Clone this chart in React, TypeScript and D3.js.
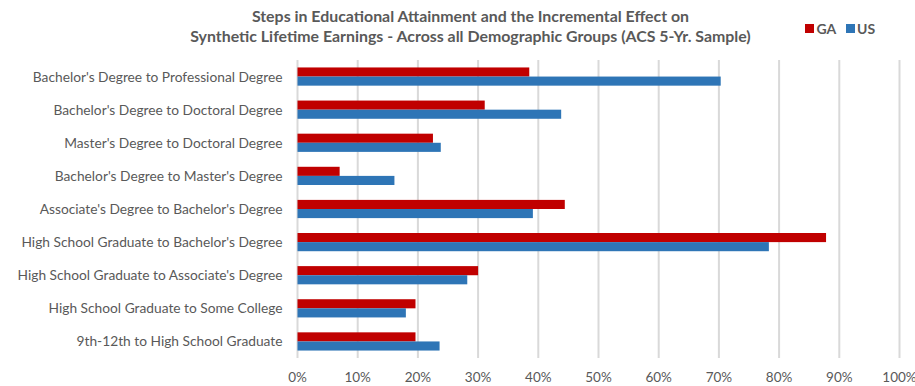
import React from "react";
import * as d3 from "d3";

const categories = [
  "Bachelor's Degree to Professional Degree",
  "Bachelor's Degree to Doctoral Degree",
  "Master's Degree to Doctoral Degree",
  "Bachelor's Degree to Master's Degree",
  "Associate's Degree to Bachelor's Degree",
  "High School Graduate to Bachelor's Degree",
  "High School Graduate to Associate's Degree",
  "High School Graduate to Some College",
  "9th-12th to High School Graduate",
];
const gaValues = [0.385, 0.311, 0.225, 0.07, 0.444, 0.878, 0.30, 0.196, 0.196];
const usValues = [0.703, 0.438, 0.238, 0.161, 0.391, 0.783, 0.282, 0.18, 0.236];
const seriesNames = ["GA", "US"];
const seriesColors = ["#C00000", "#2E75B6"];
const xTicks = [0, 0.1, 0.2, 0.3, 0.4, 0.5, 0.6, 0.7, 0.8, 0.9, 1.0];
const titleLines = [
  "Steps in Educational Attainment and the Incremental Effect on",
  "Synthetic Lifetime Earnings - Across all Demographic Groups (ACS 5-Yr. Sample)",
];

const W = 915;
const H = 386;
const FONT = "Lato, 'Open Sans', sans-serif";
const GREY = "#595959";

export default function App() {
  const x = d3.scaleLinear().domain([0, 1]).range([297.5, 899.5]);
  const y = d3
    .scaleBand<string>()
    .domain(categories)
    .range([60, 358])
    .paddingInner(0.45)
    .paddingOuter(0.225);
  const sub = d3.scaleBand<string>().domain(seriesNames).range([0, y.bandwidth()]);
  const values = [gaValues, usValues];
  const fmt = d3.format(".0%");

  return (
    <svg
      width={W}
      height={H}
      style={{ position: "absolute", left: 0, top: 0, background: "#fff" }}
      fontFamily={FONT}
    >
      <rect x={0} y={0} width={W} height={H} fill="#fff" />
      {/* title */}
      {titleLines.map((t, i) => (
        <text
          key={i}
          x={470.5}
          y={22 + i * 20}
          textAnchor="middle"
          fontSize={15.9}
          fontWeight="bold"
          fill={GREY}
        >
          {t}
        </text>
      ))}
      {/* legend */}
      <g>
        <rect x={805} y={24} width={9} height={9} fill={seriesColors[0]} />
        <text x={816.5} y={33.5} fontSize={14} fontWeight="bold" fill={GREY}>
          {seriesNames[0]}
        </text>
        <rect x={846} y={24} width={9} height={9} fill={seriesColors[1]} />
        <text x={857} y={33.5} fontSize={14} fontWeight="bold" fill={GREY}>
          {seriesNames[1]}
        </text>
      </g>
      {/* gridlines */}
      {xTicks.map((t) => (
        <line
          key={t}
          x1={x(t)}
          x2={x(t)}
          y1={60}
          y2={358}
          stroke="#D9D9D9"
          strokeWidth={2}
        />
      ))}
      {/* x tick labels */}
      {xTicks.map((t) => (
        <text
          key={"l" + t}
          x={x(t)}
          y={382}
          textAnchor="middle"
          fontSize={13.5}
          fill={GREY}
        >
          {fmt(t)}
        </text>
      ))}
      {/* bars */}
      {categories.map((c, ci) => (
        <g key={c} transform={`translate(0,${y(c)})`}>
          {seriesNames.map((s, si) => (
            <rect
              key={s}
              x={x(0)}
              y={sub(s)}
              width={x(values[si][ci]) - x(0)}
              height={sub.bandwidth()}
              fill={seriesColors[si]}
            />
          ))}
          <text
            x={282.5}
            y={y.bandwidth() / 2 + 5}
            textAnchor="end"
            fontSize={13.75}
            fill={GREY}
          >
            {c}
          </text>
        </g>
      ))}
    </svg>
  );
}
